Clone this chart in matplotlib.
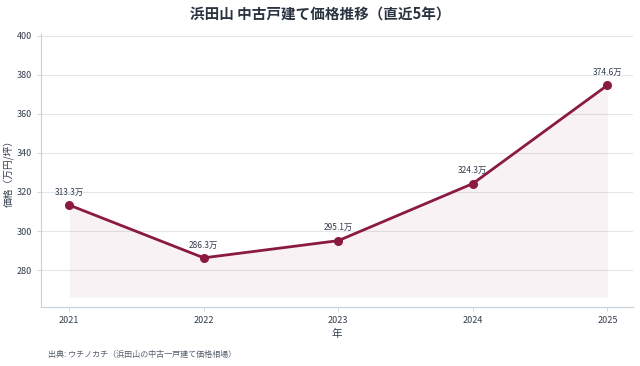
import matplotlib
matplotlib.use("Agg")
import matplotlib.pyplot as plt

years = [2021, 2022, 2023, 2024, 2025]
prices = [313.3, 286.3, 295.1, 324.3, 374.6]
labels = [f"{v:.1f}万" for v in prices]

plt.rcParams["font.family"] = ["Noto Sans CJK JP", "DejaVu Sans"]

LINE = "#8b1a42"
TEXT = "#333d4d"
SPINE = "#c8d0dc"

fig = plt.figure(figsize=(6.4, 3.66), dpi=100)
ax = fig.add_axes([0.064, 0.161, 0.925, 0.746])

base = min(prices) * 0.93
ax.fill_between(years, prices, base, color=LINE, alpha=0.055, linewidth=0)
ax.plot(years, prices, color=LINE, linewidth=2, marker="o", markersize=5.5, zorder=3)

for x, y, t in zip(years, prices, labels):
    ax.annotate(t, (x, y), xytext=(0, 6), textcoords="offset points",
                ha="center", va="bottom", fontsize=6, color=TEXT)

ax.set_xlim(2020.79, 2025.19)
ax.set_ylim(min(prices) * 0.912, max(prices) * 1.07)
ax.set_xticks(years)
ax.set_yticks(range(280, 401, 20))
ax.tick_params(labelsize=6.5, colors=TEXT, length=3, width=0.6)
ax.tick_params(axis="both", color=SPINE)

ax.grid(axis="y", color="#e3e6ec", linewidth=0.8)
ax.set_axisbelow(True)
for s in ("top", "right"):
    ax.spines[s].set_visible(False)
for s in ("left", "bottom"):
    ax.spines[s].set_color(SPINE)
    ax.spines[s].set_linewidth(0.8)

ax.set_xlabel("年", fontsize=7.5, color=TEXT, labelpad=3)
ax.set_ylabel("価格（万円/坪）", fontsize=7, color=TEXT, labelpad=2)

fig.suptitle("浜田山 中古戸建て価格推移（直近5年）", fontsize=10.5, fontweight="bold",
             color="#2a3340", y=0.985)
fig.text(0.075, 0.025, "出典: ウチノカチ（浜田山の中古一戸建て価格相場）", fontsize=5.8, color="#555e6b")

fig.savefig("out.png", dpi=100)
